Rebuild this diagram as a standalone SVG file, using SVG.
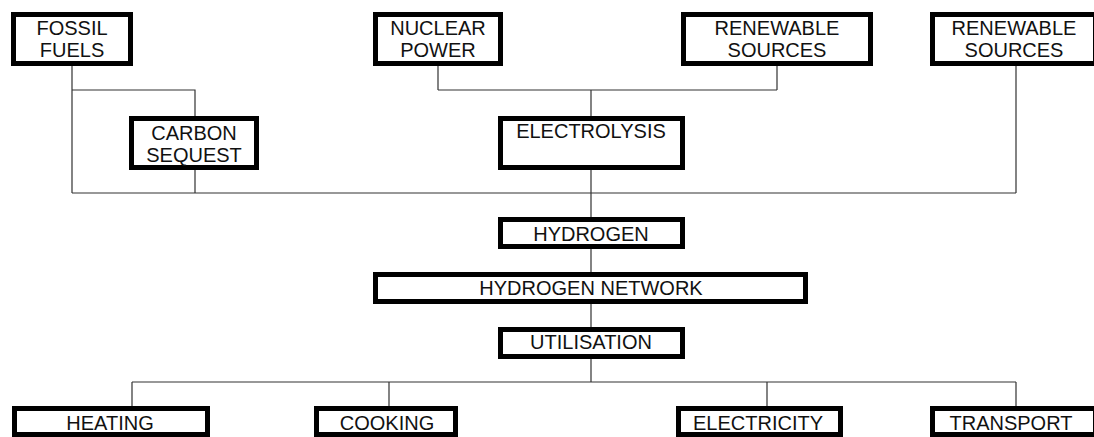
<svg xmlns="http://www.w3.org/2000/svg" width="1094" height="437" viewBox="0 0 1094 437">
<style>
.box{fill:#fff;stroke:#000;stroke-width:5}
.t{font-family:"Liberation Sans",Arial,sans-serif;font-size:20px;fill:#111;text-anchor:middle}
.c{stroke:#333;stroke-width:1.2;fill:none}
</style>
<rect width="1094" height="437" fill="#fff"/>
<g id="connectors">
<path class="c" d="M72 66V193M72 90H195V116M195 170V193M72 193H1016M1016 66V193"/>
<path class="c" d="M438 66V90M777 66V90M438 90H777M591 90V116M591 170V217M591 249V272M591 304V327M591 359V382"/>
<path class="c" d="M132 382H1016M132 382V406M389 382V406M767 382V406M1016 382V406"/>
</g>
<g id="fossil"><rect class="box" x="13.5" y="14.5" width="117" height="49"/><text class="t" x="72" y="35">FOSSIL</text><text class="t" x="72" y="57">FUELS</text></g>
<g id="nuclear"><rect class="box" x="375.5" y="14.5" width="125" height="49"/><text class="t" x="438" y="35">NUCLEAR</text><text class="t" x="438" y="57">POWER</text></g>
<g id="renewable1"><rect class="box" x="683.5" y="14.5" width="187" height="49"/><text class="t" x="777" y="35">RENEWABLE</text><text class="t" x="777" y="57">SOURCES</text></g>
<g id="renewable2"><rect class="box" x="932.5" y="14.5" width="163" height="49"/><text class="t" x="1014" y="35">RENEWABLE</text><text class="t" x="1014" y="57">SOURCES</text></g>
<g id="carbon"><rect class="box" x="131.5" y="118.5" width="125" height="49"/><text class="t" x="194" y="140">CARBON</text><text class="t" x="194" y="162">SEQUEST</text></g>
<g id="electrolysis"><rect class="box" x="500.5" y="118.5" width="182" height="49"/><text class="t" x="591" y="138">ELECTROLYSIS</text></g>
<g id="hydrogen"><rect class="box" x="500.5" y="219.5" width="182" height="27"/><text class="t" x="591" y="241">HYDROGEN</text></g>
<g id="network"><rect class="box" x="375.5" y="274.5" width="430" height="27"/><text class="t" x="591" y="295">HYDROGEN NETWORK</text></g>
<g id="utilisation"><rect class="box" x="500.5" y="329.5" width="182" height="27"/><text class="t" x="591" y="349">UTILISATION</text></g>
<g id="heating"><rect class="box" x="14.5" y="408.5" width="193" height="26"/><text class="t" x="110" y="430">HEATING</text></g>
<g id="cooking"><rect class="box" x="316.5" y="408.5" width="139" height="26"/><text class="t" x="387" y="430">COOKING</text></g>
<g id="electricity"><rect class="box" x="678.5" y="408.5" width="162" height="26"/><text class="t" x="758" y="430">ELECTRICITY</text></g>
<g id="transport"><rect class="box" x="932.5" y="408.5" width="163" height="26"/><text class="t" x="1011" y="430">TRANSPORT</text></g>
</svg>
